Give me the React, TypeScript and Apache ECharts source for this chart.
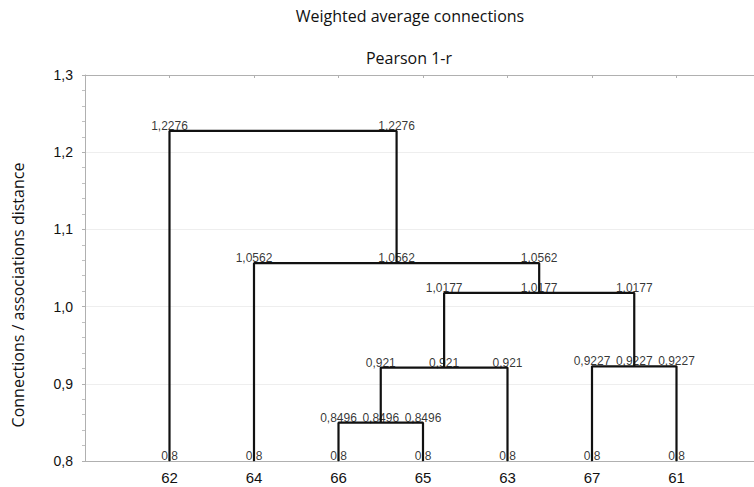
import React, { useEffect, useRef } from "react";
import * as echarts from "echarts";

const leafLabels = ["62", "64", "66", "65", "63", "67", "61"];
const leafHeight = 0.8;
// merges: children node ids (0..6 leaves, 7.. merges in order), heights
const mergeLeft = [2, 7, 5, 8, 1, 0];
const mergeRight = [3, 4, 6, 9, 10, 11];
const mergeHeights = [0.8496, 0.921, 0.9227, 1.0177, 1.0562, 1.2276];
const yTicks = [0.8, 0.9, 1.0, 1.1, 1.2, 1.3];

const fmt = (v: number) => String(v).replace(".", ",");

export default function App() {
  const ref = useRef<HTMLDivElement>(null);
  useEffect(() => {
    if (!ref.current) return;
    const chart = echarts.init(ref.current, null, { renderer: "svg" });

    const nodeX: number[] = leafLabels.map((_, i) => i + 1);
    const nodeY: number[] = leafLabels.map(() => leafHeight);
    mergeHeights.forEach((h, k) => {
      const a = mergeLeft[k];
      const b = mergeRight[k];
      nodeX.push((nodeX[a] + nodeX[b]) / 2);
      nodeY.push(h);
    });

    const lineSeries: any[] = mergeHeights.map((h, k) => {
      const a = mergeLeft[k];
      const b = mergeRight[k];
      return {
        type: "line",
        data: [
          [nodeX[a], nodeY[a]],
          [nodeX[a], h],
          [nodeX[b], h],
          [nodeX[b], nodeY[b]],
        ],
        symbol: "none",
        lineStyle: { color: "#111111", width: 2.2 },
        silent: true,
        z: 3,
      };
    });

    const labelPoints: any[] = [];
    leafLabels.forEach((_, i) => labelPoints.push([nodeX[i], leafHeight]));
    const lastMerge = mergeHeights.length - 1;
    mergeHeights.forEach((h, k) => {
      const a = mergeLeft[k];
      const b = mergeRight[k];
      labelPoints.push([nodeX[a], h]);
      if (k !== lastMerge) labelPoints.push([nodeX[7 + k], h]);
      labelPoints.push([nodeX[b], h]);
    });

    chart.setOption({
      animation: false,
      backgroundColor: "#ffffff",
      title: [
        {
          text: "Weighted average connections",
          left: 405,
          top: 0,
          textAlign: "center",
          textStyle: { fontFamily: "Open Sans", fontSize: 16, lineHeight: 22, fontWeight: "normal", color: "#111" },
        },
        {
          text: "Pearson 1-r",
          left: 404,
          top: 42,
          textAlign: "center",
          textStyle: { fontFamily: "Open Sans", fontSize: 16, lineHeight: 22, fontWeight: "normal", color: "#111" },
        },
      ],
      graphic: [
        {
          type: "text",
          x: 18,
          y: 295,
          rotation: Math.PI / 2,
          style: {
            text: "Connections / associations distance",
            fontFamily: "Open Sans",
            fontSize: 16,
            fill: "#111",
            textAlign: "center",
            textVerticalAlign: "middle",
          },
        },
      ],
      grid: { left: 85, width: 676, top: 75, bottom: 26, show: false, outerBoundsMode: "none", containLabel: false },
      xAxis: [
        {
          type: "value",
          min: 0,
          max: 8,
          interval: 1,
          position: "bottom",
          axisLine: { show: true, lineStyle: { color: "#b0b0b0", width: 1 } },
          axisTick: { show: false },
          splitLine: { show: false },
          axisLabel: {
            formatter: (v: number) => (v >= 1 && v <= leafLabels.length ? leafLabels[v - 1] : ""),
            fontFamily: "Liberation Sans",
            fontSize: 15,
            color: "#111",
            margin: 9,
          },
        },
        {
          type: "value",
          min: 0,
          max: 8,
          interval: 1,
          position: "top",
          axisLine: { show: true, lineStyle: { color: "#b0b0b0", width: 1 } },
          axisTick: { show: true, inside: true, length: 3, lineStyle: { color: "#b0b0b0" } },
          splitLine: { show: false },
          axisLabel: { show: false },
        },
      ],
      yAxis: {
        type: "value",
        min: yTicks[0],
        max: yTicks[yTicks.length - 1],
        interval: 0.1,
        axisLine: { show: true, lineStyle: { color: "#b0b0b0", width: 1 } },
        axisTick: { show: true, length: 3, lineStyle: { color: "#b0b0b0" } },
        minorTick: { show: true, splitNumber: 5, length: 3, lineStyle: { color: "#c0c0c0" } },
        splitLine: { show: true, lineStyle: { color: "#eeeeee", width: 1 } },
        axisLabel: {
          formatter: (v: number) => v.toFixed(1).replace(".", ","),
          fontFamily: "Liberation Sans",
          fontSize: 14,
          color: "#111",
          margin: 12,
        },
      },
      series: [
        ...lineSeries,
        {
          type: "scatter",
          data: labelPoints,
          symbolSize: 0,
          silent: true,
          z: 2,
          label: {
            show: true,
            position: "top",
            distance: -1,
            formatter: (p: any) => fmt(p.value[1]),
            fontFamily: "Liberation Sans",
            fontSize: 12,
            color: "#000",
          },
        },
      ],
    });
    return () => chart.dispose();
  }, []);
  return <div ref={ref} style={{ width: 754, height: 487, position: "absolute", left: 0, top: 0 }} />;
}
